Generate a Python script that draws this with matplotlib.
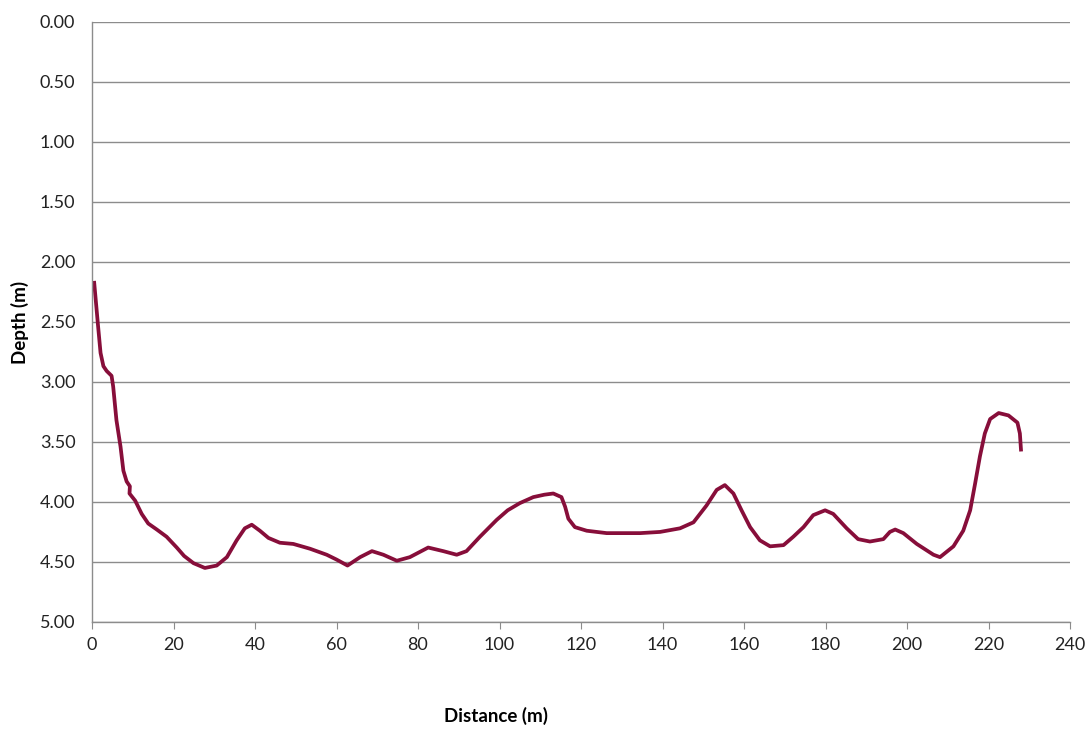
import matplotlib
matplotlib.use("Agg")
import matplotlib.pyplot as plt
from matplotlib.ticker import FormatStrFormatter
import numpy as np

# Cross-section profile
distance = [0.5, 1.5, 2.1, 2.8, 3.6, 4.8, 5.2, 6.0, 7.0, 7.7, 8.5, 9.3, 9.2, 10.6,
            12.2, 13.8, 15.9, 18.3, 20.8, 22.6, 24.9, 27.7, 30.6, 33.1, 35.5, 37.5,
            39.2, 41.2, 43.3, 46.1, 49.4, 53.5, 57.6, 60.0, 62.7, 65.8, 68.7, 71.5,
            74.8, 78.0, 82.5, 86.2, 89.5, 91.9, 95.2, 99.3, 102.0, 105.0, 108.3,
            111.0, 113.2, 115.2, 116.1, 116.9, 118.5, 121.4, 126.3, 134.5, 139.4,
            144.3, 147.6, 150.8, 153.3, 155.3, 157.4, 159.4, 161.5, 163.9, 166.4,
            169.7, 172.1, 174.6, 177.0, 179.9, 181.9, 185.2, 188.0, 190.9, 194.2,
            195.8, 197.1, 199.1, 202.4, 206.5, 208.1, 211.4, 213.8, 215.5, 216.7,
            217.9, 219.1, 220.4, 222.5, 224.9, 227.1, 227.7, 228.0]
depth = [2.16, 2.54, 2.76, 2.87, 2.91, 2.95, 3.04, 3.32, 3.54, 3.74, 3.83, 3.87, 3.93, 3.99,
         4.10, 4.18, 4.23, 4.29, 4.38, 4.45, 4.51, 4.55, 4.53, 4.46, 4.32, 4.22,
         4.19, 4.24, 4.30, 4.34, 4.35, 4.39, 4.44, 4.48, 4.53, 4.46, 4.41, 4.44,
         4.49, 4.46, 4.38, 4.41, 4.44, 4.41, 4.29, 4.15, 4.07, 4.01, 3.96,
         3.94, 3.93, 3.96, 4.04, 4.14, 4.21, 4.24, 4.26, 4.26, 4.25,
         4.22, 4.17, 4.03, 3.90, 3.86, 3.93, 4.07, 4.21, 4.32, 4.37,
         4.36, 4.29, 4.21, 4.11, 4.07, 4.10, 4.22, 4.31, 4.33, 4.31,
         4.25, 4.23, 4.26, 4.35, 4.44, 4.46, 4.37, 4.24, 4.07, 3.85,
         3.62, 3.43, 3.31, 3.26, 3.28, 3.34, 3.43, 3.58]

xticks = list(range(0, 241, 20))
yticks = list(np.arange(0, 5.01, 0.5))

fig = plt.figure(figsize=(10.92, 7.30), dpi=100)
ax = fig.add_axes([92 / 1092, 1 - 622 / 730, 978 / 1092, 600.5 / 730])

ax.plot(distance, depth, color="#870E3A", linewidth=2.7, solid_capstyle="butt",
        solid_joinstyle="round")

ax.set_xlim(0, 240)
ax.set_ylim(5, 0)
ax.set_xticks(xticks)
ax.set_yticks(yticks)
ax.yaxis.set_major_formatter(FormatStrFormatter("%.2f"))

ax.grid(axis="y", color="#8c8c8c", linewidth=1)
ax.set_axisbelow(True)
for side in ["top", "right"]:
    ax.spines[side].set_visible(False)
for side in ["left", "bottom"]:
    ax.spines[side].set_color("#8c8c8c")
    ax.spines[side].set_linewidth(1)

ax.tick_params(axis="x", length=5, color="#8c8c8c", labelsize=13, pad=6,
               labelcolor="#222222")
ax.tick_params(axis="y", length=0, labelsize=13, pad=12, labelcolor="#222222")
for lbl in ax.get_xticklabels() + ax.get_yticklabels():
    lbl.set_family("Lato")

fig.text(496 / 1092, 1 - 716 / 730, "Distance (m)", ha="center", va="center",
         fontsize=13.5, fontweight="bold", family="Lato")
fig.text(20 / 1092, 1 - 322 / 730, "Depth (m)", ha="center", va="center",
         rotation=90, fontsize=13.5, fontweight="bold", family="Lato")

fig.savefig("out.png", dpi=100)
